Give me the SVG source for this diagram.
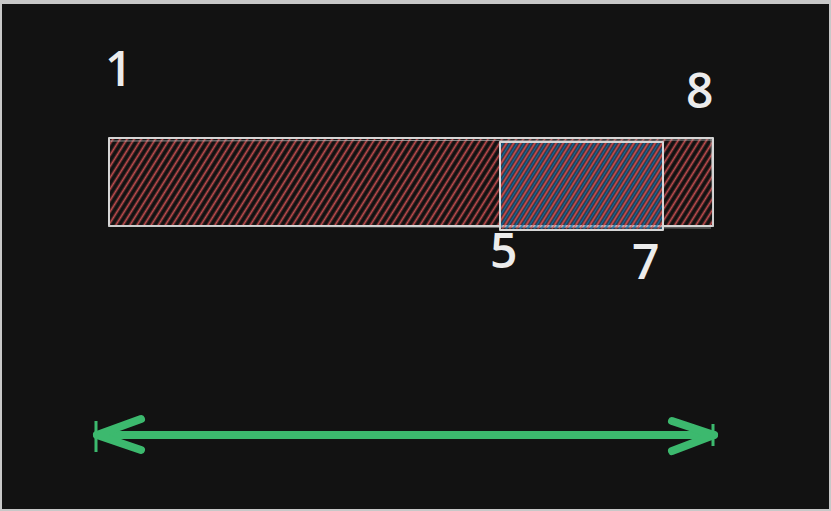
<svg xmlns="http://www.w3.org/2000/svg" width="831" height="511" viewBox="0 0 831 511">
<style>
.lbl{font-family:"Open Sans","Noto Sans",sans-serif;font-size:48px;font-weight:600;fill:#ececec}
.edge{fill:none;stroke:#d6d6d6;stroke-width:2;stroke-linejoin:round}
.edge2{fill:none;stroke:#bdbdbd;stroke-width:1;opacity:0.7}
.arrow{fill:none;stroke:#3cb96e;stroke-width:8;stroke-linecap:round;stroke-linejoin:round}
.tick{fill:none;stroke:#3cb96e;stroke-width:3}
</style>
<defs>
<pattern id="hRed" width="6" height="10" patternUnits="userSpaceOnUse" patternTransform="rotate(32)">
<line x1="1.5" y1="0" x2="1.5" y2="10" stroke="#c44e50" stroke-width="1.8"/>
</pattern>
<pattern id="hBlue" width="6" height="10" patternUnits="userSpaceOnUse" patternTransform="rotate(32)">
<line x1="4.5" y1="0" x2="4.5" y2="10" stroke="#1f6ea3" stroke-width="2.2"/>
</pattern>
</defs>
<rect x="0" y="0" width="831" height="511" fill="#c8c8c8"/>
<rect x="2" y="4" width="827" height="505" fill="#121212"/>
<g id="bar">
<rect x="109" y="138" width="604" height="88" fill="url(#hRed)"/>
<rect class="edge" x="109" y="138" width="604" height="88"/>
<path class="edge2" d="M110 141 L712 140 M108 226 L711 228 M711 137 L713 227"/>
</g>
<g id="range">
<rect x="500" y="142" width="163" height="88" fill="url(#hBlue)" opacity="0.9"/>
<rect x="500" y="142" width="163" height="88" fill="url(#hRed)" opacity="0.8"/>
<rect class="edge" x="500" y="142" width="163" height="88" stroke="#c9d6e6"/>
</g>
<g id="labels">
<text class="lbl" x="105" y="86">1</text>
<text class="lbl" x="686" y="108">8</text>
<text class="lbl" x="490" y="268">5</text>
<text class="lbl" x="632" y="279">7</text>
</g>
<g id="connectors">
<path class="arrow" d="M97 435 L714 435"/>
<path class="arrow" d="M141 419 L97 435 L141 450"/>
<path class="arrow" d="M672 421 L714 435 L672 451"/>
<path class="tick" d="M96 421 L96 452 M713 424 L713 446"/>
</g>
</svg>
